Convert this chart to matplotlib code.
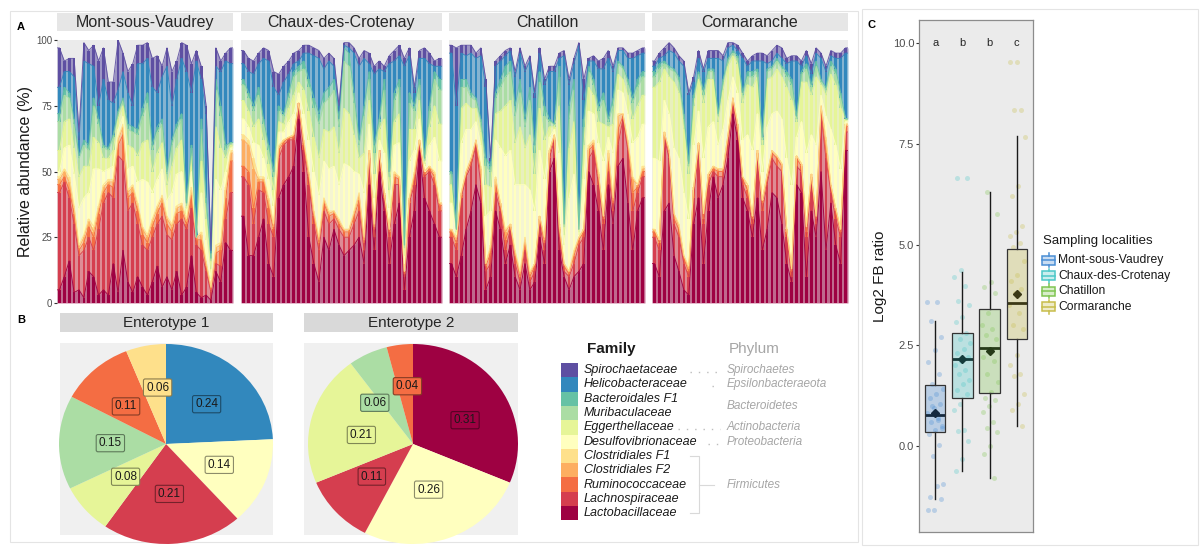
import numpy as np
import matplotlib
matplotlib.use("Agg")
import matplotlib.pyplot as plt
from matplotlib.patches import Rectangle
import matplotlib.colors as mcolors

plt.rcParams['font.family'] = ['Liberation Sans', 'DejaVu Sans']

# ---------------------------------------------------------------- data
families = ["Lactobacillaceae", "Lachnospiraceae", "Ruminococcaceae",
            "Clostridiales F2", "Clostridiales F1", "Desulfovibrionaceae",
            "Eggerthellaceae", "Muribaculaceae", "Bacteroidales F1",
            "Helicobacteraceae", "Spirochaetaceae"]
family_colors = ["#9e0142", "#d53e4f", "#f46d43", "#fdae61", "#fee08b",
                 "#ffffbf", "#e6f598", "#abdda4", "#66c2a5", "#3288bd",
                 "#5e4fa2"]

sites = ["Mont-sous-Vaudrey", "Chaux-des-Crotenay", "Chatillon", "Cormaranche"]

# relative abundance (%) per sample, one list per family
mont_lacto = [5, 10, 16, 4, 5, 2, 12, 10, 3, 5, 3, 15, 4, 20, 8, 4, 10, 6, 3, 8, 14, 6, 10, 5, 12, 3, 6, 18, 4, 2, 3, 1, 12, 8, 23, 20]
mont_lachno = [37, 36, 24, 26, 13, 18, 13, 10, 25, 33, 39, 25, 52, 34, 27, 34, 20, 16, 17, 17, 16, 27, 16, 19, 18, 29, 22, 18, 18, 18, 9, 3, 3, 6, 9, 22]
mont_rumino = [3, 2, 3, 4, 2, 3, 4, 5, 6, 4, 3, 4, 4, 10, 5, 4, 5, 4, 3, 4, 4, 5, 4, 3, 4, 3, 2, 5, 2, 4, 2, 1, 4, 6, 8, 12]
mont_clos_f2 = [2, 2, 3, 2, 1, 2, 2, 2, 2, 2, 1, 2, 2, 3, 2, 2, 2, 2, 2, 2, 2, 2, 2, 2, 2, 2, 1, 2, 1, 2, 1, 1, 2, 2, 3, 3]
mont_clos_f1 = [1, 1, 2, 1, 1, 1, 1, 2, 1, 1, 1, 1, 1, 1, 1, 1, 1, 1, 1, 1, 1, 1, 1, 1, 1, 1, 1, 1, 0, 1, 1, 0, 1, 1, 1, 1]
mont_desulfo = [2, 8, 12, 12, 14, 14, 10, 22, 14, 5, 4, 5, 3, 3, 8, 7, 8, 18, 20, 10, 10, 10, 6, 12, 12, 12, 2, 6, 0, 15, 8, 3, 25, 20, 6, 1]
mont_egger = [8, 10, 10, 10, 12, 12, 10, 12, 10, 5, 4, 6, 4, 4, 9, 7, 10, 14, 16, 8, 10, 10, 6, 10, 10, 12, 2, 6, 0, 12, 8, 4, 20, 16, 5, 1]
mont_muri = [11, 10, 8, 9, 7, 8, 6, 12, 7, 4, 3, 5, 2, 2, 6, 6, 8, 10, 14, 8, 8, 7, 4, 8, 7, 8, 1, 3, 0, 12, 6, 3, 14, 12, 3, 1]
mont_bact_f1 = [3, 3, 2, 2, 1, 2, 2, 3, 2, 1, 1, 1, 1, 1, 2, 2, 2, 3, 4, 2, 2, 2, 1, 2, 2, 2, 1, 1, 0, 4, 2, 1, 4, 4, 2, 0]
mont_helico = [10, 6, 8, 16, 6, 30, 31, 12, 5, 25, 18, 12, 8, 10, 12, 8, 25, 17, 13, 22, 13, 16, 40, 13, 17, 21, 50, 20, 67, 15, 32, 2, 5, 13, 32, 30]
mont_spiro = [15, 4, 5, 7, 3, 7, 5, 8, 17, 12, 7, 8, 19, 7, 8, 16, 7, 7, 6, 11, 14, 4, 7, 13, 7, 6, 10, 11, 4, 5, 3, 1, 7, 4, 3, 6]

chaux_lacto = [33, 18, 18, 25, 32, 15, 10, 40, 45, 48, 52, 70, 50, 25, 15, 8, 25, 20, 28, 22, 18, 20, 22, 25, 15, 45, 20, 50, 35, 15, 30, 38, 5, 25, 35, 58, 40, 35, 30, 25]
chaux_lachno = [15, 27, 12, 18, 10, 15, 15, 15, 15, 14, 10, 5, 8, 20, 15, 12, 10, 10, 4, 6, 7, 5, 8, 10, 5, 10, 5, 7, 5, 10, 15, 7, 5, 13, 10, 2, 8, 15, 15, 10]
chaux_rumino = [4, 5, 6, 3, 4, 6, 3, 3, 1, 1, 1, 1, 2, 3, 3, 3, 3, 3, 2, 2, 2, 2, 3, 4, 3, 2, 3, 1, 1, 2, 3, 2, 1, 1, 3, 1, 1, 1, 3, 2]
chaux_clos_f2 = [10, 10, 15, 1, 1, 3, 1, 1, 1, 0, 1, 0, 1, 1, 1, 1, 1, 1, 1, 1, 1, 1, 1, 2, 1, 1, 1, 0, 1, 1, 1, 1, 1, 1, 1, 1, 1, 1, 1, 1]
chaux_clos_f1 = [2, 2, 4, 1, 1, 1, 1, 1, 0, 0, 0, 0, 1, 1, 1, 1, 1, 1, 0, 1, 0, 0, 1, 1, 1, 0, 1, 0, 0, 0, 1, 0, 0, 0, 1, 0, 0, 0, 1, 0]
chaux_desulfo = [6, 5, 6, 12, 7, 7, 7, 5, 3, 6, 8, 4, 10, 12, 15, 16, 14, 16, 17, 13, 25, 24, 15, 7, 17, 10, 10, 4, 15, 8, 10, 13, 3, 14, 8, 8, 2, 8, 13, 16]
chaux_egger = [7, 6, 6, 10, 7, 6, 6, 4, 3, 5, 7, 4, 9, 11, 13, 14, 12, 14, 15, 12, 21, 20, 14, 6, 15, 9, 9, 4, 13, 7, 9, 11, 3, 12, 8, 7, 1, 7, 12, 14]
chaux_muri = [6, 5, 6, 9, 6, 5, 5, 4, 3, 4, 7, 4, 8, 9, 11, 13, 10, 13, 14, 10, 18, 18, 12, 5, 14, 8, 8, 3, 11, 5, 8, 10, 3, 10, 7, 6, 1, 6, 10, 13]
chaux_bact_f1 = [2, 2, 2, 3, 2, 2, 2, 2, 1, 2, 2, 2, 3, 3, 4, 4, 4, 4, 4, 3, 5, 5, 4, 2, 4, 3, 3, 1, 4, 2, 3, 3, 1, 4, 2, 2, 1, 2, 3, 4]
chaux_helico = [6, 8, 12, 9, 23, 32, 32, 4, 12, 7, 3, 2, 3, 10, 16, 21, 9, 10, 5, 3, 1, 2, 15, 28, 18, 3, 27, 19, 3, 41, 12, 9, 68, 14, 5, 8, 38, 16, 2, 5]
chaux_spiro = [5, 5, 5, 4, 4, 4, 6, 8, 6, 5, 4, 4, 3, 3, 3, 3, 4, 3, 3, 2, 1, 2, 2, 3, 3, 4, 3, 3, 2, 3, 4, 4, 3, 3, 2, 3, 4, 4, 2, 3]

chat_lacto = [15, 10, 18, 28, 35, 45, 38, 5, 10, 35, 28, 15, 22, 10, 5, 15, 5, 8, 25, 15, 50, 55, 20, 10, 5, 10, 12, 15, 50, 45, 35, 20, 45, 30, 52, 55, 38, 20, 35, 40]
chat_lachno = [10, 10, 22, 20, 17, 15, 7, 7, 5, 7, 7, 5, 6, 5, 3, 5, 3, 4, 5, 5, 5, 7, 5, 2, 5, 5, 10, 10, 5, 13, 10, 10, 5, 5, 8, 15, 20, 15, 7, 8]
chat_rumino = [2, 3, 1, 1, 2, 1, 4, 2, 4, 3, 2, 4, 1, 3, 2, 3, 2, 2, 2, 3, 2, 1, 3, 2, 1, 3, 2, 2, 3, 2, 3, 2, 4, 3, 6, 1, 2, 7, 2, 2]
chat_clos_f2 = [1, 1, 1, 1, 1, 1, 2, 1, 2, 2, 1, 3, 1, 1, 1, 1, 1, 1, 1, 1, 1, 1, 1, 1, 1, 1, 1, 1, 1, 1, 1, 1, 3, 1, 5, 1, 1, 5, 1, 1]
chat_clos_f1 = [0, 1, 0, 0, 0, 0, 1, 0, 1, 1, 0, 1, 0, 1, 1, 1, 1, 0, 0, 1, 0, 0, 1, 0, 0, 1, 0, 0, 1, 1, 1, 0, 1, 1, 1, 0, 1, 1, 0, 1]
chat_desulfo = [10, 1, 19, 16, 11, 7, 8, 18, 13, 14, 21, 28, 28, 25, 33, 20, 31, 20, 25, 22, 5, 2, 27, 7, 28, 29, 1, 19, 13, 10, 11, 21, 5, 17, 9, 8, 10, 13, 18, 16]
chat_egger = [7, 1, 13, 10, 8, 5, 5, 12, 9, 10, 14, 19, 19, 16, 22, 14, 21, 14, 16, 15, 4, 1, 18, 4, 19, 20, 1, 13, 9, 7, 8, 14, 4, 11, 6, 5, 7, 9, 12, 11]
chat_muri = [4, 1, 8, 6, 4, 3, 4, 7, 6, 6, 9, 11, 11, 10, 13, 8, 13, 8, 10, 9, 2, 1, 11, 3, 11, 12, 1, 7, 6, 4, 4, 9, 2, 7, 4, 4, 4, 6, 7, 7]
chat_bact_f1 = [1, 0, 3, 3, 2, 1, 1, 3, 2, 2, 3, 4, 4, 4, 5, 3, 5, 3, 4, 4, 1, 0, 4, 1, 5, 4, 0, 3, 2, 2, 2, 3, 1, 3, 1, 1, 2, 2, 3, 2]
chat_helico = [45, 47, 10, 9, 15, 15, 24, 27, 2, 10, 7, 4, 4, 11, 10, 18, 10, 18, 7, 8, 18, 20, 3, 64, 8, 6, 70, 7, 2, 7, 14, 9, 23, 10, 4, 6, 8, 15, 9, 7]
chat_spiro = [3, 22, 3, 4, 3, 2, 3, 3, 1, 2, 2, 2, 1, 2, 2, 2, 2, 2, 2, 2, 2, 2, 2, 2, 2, 2, 1, 8, 1, 2, 3, 4, 3, 2, 1, 1, 2, 2, 2, 2]

corm_lacto = [15, 10, 35, 38, 18, 12, 5, 3, 30, 40, 15, 35, 48, 40, 45, 55, 72, 62, 40, 35, 25, 40, 20, 28, 42, 40, 30, 15, 8, 45, 42, 10, 35, 25, 50, 20, 38, 22, 15, 58]
corm_lachno = [10, 10, 28, 17, 12, 13, 10, 7, 10, 18, 15, 10, 2, 8, 3, 5, 4, 3, 5, 5, 5, 15, 15, 17, 13, 12, 20, 10, 2, 7, 8, 15, 10, 5, 22, 35, 4, 10, 10, 7]
corm_rumino = [2, 3, 1, 2, 2, 3, 2, 2, 3, 2, 2, 3, 1, 2, 2, 3, 1, 2, 2, 3, 2, 2, 3, 2, 2, 3, 2, 2, 2, 3, 2, 2, 3, 2, 1, 2, 2, 3, 2, 2]
corm_clos_f2 = [1, 1, 1, 1, 2, 1, 1, 1, 1, 1, 2, 1, 1, 1, 1, 1, 1, 1, 1, 2, 1, 1, 1, 2, 1, 1, 1, 1, 1, 1, 1, 2, 1, 1, 2, 5, 1, 1, 1, 1]
corm_clos_f1 = [0, 0, 0, 0, 0, 1, 0, 1, 0, 0, 0, 0, 0, 0, 0, 0, 0, 0, 0, 0, 0, 0, 0, 0, 0, 0, 0, 0, 0, 0, 0, 0, 0, 0, 0, 1, 0, 0, 0, 0]
corm_desulfo = [27, 30, 12, 14, 25, 25, 24, 18, 16, 12, 21, 18, 17, 9, 15, 13, 8, 12, 14, 19, 25, 14, 11, 18, 14, 17, 17, 27, 32, 7, 16, 28, 15, 27, 4, 8, 21, 24, 23, 1]
corm_egger = [27, 30, 12, 14, 25, 25, 24, 17, 15, 12, 21, 18, 16, 9, 15, 13, 8, 11, 14, 19, 24, 14, 10, 18, 14, 16, 16, 27, 32, 6, 15, 27, 15, 26, 4, 8, 21, 23, 23, 1]
corm_muri = [4, 5, 2, 3, 4, 4, 4, 3, 3, 2, 3, 3, 3, 2, 3, 2, 1, 2, 3, 3, 4, 2, 2, 3, 3, 3, 3, 4, 6, 1, 3, 5, 3, 4, 1, 2, 3, 4, 4, 0]
corm_bact_f1 = [2, 2, 1, 1, 1, 2, 2, 1, 1, 1, 2, 1, 1, 1, 1, 1, 1, 1, 1, 2, 2, 1, 1, 1, 1, 1, 1, 2, 2, 1, 1, 2, 1, 2, 1, 1, 2, 2, 2, 0]
corm_helico = [2, 2, 2, 6, 6, 6, 18, 26, 5, 5, 7, 4, 4, 21, 7, 4, 2, 2, 13, 2, 4, 3, 29, 2, 2, 2, 3, 3, 7, 21, 2, 3, 4, 3, 8, 6, 2, 4, 13, 25]
corm_spiro = [2, 2, 3, 3, 2, 2, 2, 1, 2, 3, 1, 3, 3, 3, 2, 2, 1, 2, 2, 2, 2, 3, 3, 3, 4, 3, 4, 2, 2, 2, 2, 2, 4, 2, 2, 2, 2, 2, 2, 2]

# mean family proportions per enterotype (clockwise from 12 o'clock)
ent1_families = ["Helicobacteraceae", "Desulfovibrionaceae", "Lachnospiraceae",
                 "Eggerthellaceae", "Muribaculaceae", "Ruminococcaceae",
                 "Clostridiales F1"]
ent1_values = [0.24, 0.14, 0.21, 0.08, 0.15, 0.11, 0.06]
ent2_families = ["Lactobacillaceae", "Desulfovibrionaceae", "Lachnospiraceae",
                 "Eggerthellaceae", "Muribaculaceae", "Ruminococcaceae"]
ent2_values = [0.31, 0.26, 0.11, 0.21, 0.06, 0.04]

# Firmicutes / Bacteroidetes ratio
box_colors = ["#4a8ed4", "#4cc8c8", "#80c552", "#c8bd4b"]
box_q1 = [0.34, 1.20, 1.31, 2.66]
box_median = [0.78, 2.17, 2.44, 3.56]
box_q3 = [1.52, 2.81, 3.41, 4.89]
box_whislo = [-1.30, -0.62, -0.80, 0.50]
box_whishi = [3.11, 4.32, 6.30, 7.69]
box_mean = [0.83, 2.17, 2.36, 3.77]
sig_letters = ["a", "b", "b", "c"]
fb_mont = [3.58, 3.58, 3.1, 2.7, 2.38, 2.09, 1.8, 1.55, 1.42, 1.3, 1.2, 1.05, 0.95, 0.82,
           0.7, 0.6, 0.5, 0.4, 0.3, 0.02, -0.25, -0.93, -1.0, -1.25, -1.3, -1.59, -1.59,
           0.65, 1.0, 0.45]
fb_chaux = [6.65, 6.65, 4.37, 4.2, 3.97, 3.6, 3.5, 3.2, 3.09, 2.8, 2.65, 2.55, 2.4, 2.3,
            2.2, 2.1, 2.0, 1.9, 1.8, 1.65, 1.55, 1.4, 1.3, 1.05, 0.9, 0.4, 0.38, 0.13,
            -0.32, -0.62]
fb_chat = [6.3, 5.75, 4.07, 3.95, 3.79, 3.3, 3.0, 2.9, 2.75, 2.65, 2.4, 2.2, 2.1, 1.8,
           1.6, 1.35, 1.2, 1.15, 1.0, 0.85, 0.6, 0.45, 0.35, 0.0, -0.2, -0.8]
fb_corm = [9.52, 9.52, 8.33, 8.33, 7.68, 6.45, 6.2, 5.45, 5.3, 5.2, 5.05, 4.95, 4.6, 4.25,
           4.1, 3.9, 3.8, 3.5, 3.3, 3.0, 2.9, 2.25, 2.0, 1.8, 1.75, 1.3, 1.05, 0.9, 0.5]

# ---------------------------------------------------------------- layout helpers
W, H = 1203, 547
fig = plt.figure(figsize=(W / 100, H / 100), dpi=100)


def px_box(x0, y0, x1, y1):
    return [x0 / W, 1 - y1 / H, (x1 - x0) / W, (y1 - y0) / H]


def darker(c, f=0.6):
    r, g, b = mcolors.to_rgb(c)
    return (r * f, g * f, b * f)


ov = fig.add_axes([0, 0, 1, 1])
ov.set_xlim(0, W)
ov.set_ylim(H, 0)
ov.axis("off")

# outer frames
ov.add_patch(Rectangle((10, 11), 848, 531, fill=False, ec="#e4e4e4", lw=0.8))
ov.add_patch(Rectangle((862, 9), 336, 536, fill=False, ec="#e4e4e4", lw=0.8))

ov.text(21, 27, "A", fontsize=8, fontweight="bold", ha="center", va="center")
ov.text(21, 320, "B", fontsize=8, fontweight="bold", ha="center", va="center")
ov.text(871, 25, "C", fontsize=8, fontweight="bold", ha="center", va="center")

# ---------------------------------------------------------------- panel A
site_data = [
    [mont_lacto, mont_lachno, mont_rumino, mont_clos_f2, mont_clos_f1, mont_desulfo,
     mont_egger, mont_muri, mont_bact_f1, mont_helico, mont_spiro],
    [chaux_lacto, chaux_lachno, chaux_rumino, chaux_clos_f2, chaux_clos_f1, chaux_desulfo,
     chaux_egger, chaux_muri, chaux_bact_f1, chaux_helico, chaux_spiro],
    [chat_lacto, chat_lachno, chat_rumino, chat_clos_f2, chat_clos_f1, chat_desulfo,
     chat_egger, chat_muri, chat_bact_f1, chat_helico, chat_spiro],
    [corm_lacto, corm_lachno, corm_rumino, corm_clos_f2, corm_clos_f1, corm_desulfo,
     corm_egger, corm_muri, corm_bact_f1, corm_helico, corm_spiro],
]
panel_x = [(57, 233), (241, 442), (449, 645), (652, 848)]
top_px, bot_px = 40, 303

for s, (site, rows) in enumerate(zip(sites, site_data)):
    x0, x1 = panel_x[s]
    ax = fig.add_axes(px_box(x0, top_px, x1, bot_px))
    ax.set_facecolor("#ebebeb")
    vals = np.array(rows, dtype=float)
    n = vals.shape[1]
    tops = np.cumsum(vals, axis=0)
    bottoms = tops - vals
    x = np.arange(n)
    xe = np.concatenate([[-0.5], x, [n - 0.5]])
    for k, col in enumerate(family_colors):
        lo = np.concatenate([[bottoms[k, 0]], bottoms[k], [bottoms[k, -1]]])
        hi = np.concatenate([[tops[k, 0]], tops[k], [tops[k, -1]]])
        ax.fill_between(xe, lo, hi, color=col, alpha=0.55, lw=0)
        ax.plot(xe, hi, color=col, lw=0.7, alpha=0.9)
        ax.bar(x, vals[k], bottom=bottoms[k], width=0.55, color=col, lw=0)
    ax.set_xlim(-0.5, n - 0.5)
    ax.set_ylim(0, 100)
    ax.set_xticks([])
    for sp in ax.spines.values():
        sp.set_visible(False)
    if s == 0:
        ax.set_yticks([0, 25, 50, 75, 100])
        ax.tick_params(axis="y", labelsize=7, labelcolor="#4d4d4d", length=2,
                       color="#333333", pad=1.5)
        ax.set_ylabel("Relative abundance (%)", fontsize=11.5, color="#1a1a1a",
                      labelpad=2)
    else:
        ax.set_yticks([])
    ov.add_patch(Rectangle((x0, 13), x1 - x0, 18, fc="#e6e6e6", ec="none"))
    ov.text((x0 + x1) / 2, 22.5, site, fontsize=11.5, color="#262626",
            ha="center", va="center")

# ---------------------------------------------------------------- panel B
def draw_pie(fams, values, px, center_x, rx, title, label_r, label_shift):
    x0, x1 = px
    ov.add_patch(Rectangle((x0, 313), x1 - x0, 19, fc="#d9d9d9", ec="none"))
    ov.text((x0 + x1) / 2, 322.5, title, fontsize=11, color="#262626",
            ha="center", va="center")
    ax = fig.add_axes(px_box(x0, 343, x1, 535))
    ax.set_facecolor("#f0f0f0")
    cols = [family_colors[families.index(f)] for f in fams]
    ax.pie(values, colors=cols, startangle=90, counterclock=False,
           wedgeprops=dict(linewidth=0))
    ax.set_aspect("auto")
    ax.set_frame_on(True)
    for sp in ax.spines.values():
        sp.set_visible(False)
    ax.patch.set_visible(True)
    cy, ry = 444, 100
    ax.set_xlim(-(center_x - x0) / rx, (x1 - center_x) / rx)
    ax.set_ylim(-(535 - cy) / ry, (cy - 343) / ry)
    frac = np.array(values) / np.sum(values)
    mids = np.cumsum(frac) - frac / 2
    for v, m, c, r, dth in zip(values, mids, cols, label_r, label_shift):
        th = 2 * np.pi * m + np.deg2rad(dth)
        ax.text(r * np.sin(th), r * np.cos(th), f"{v:.2f}", fontsize=8.5,
                color="#1a1a1a", ha="center", va="center",
                bbox=dict(boxstyle="round,pad=0.22,rounding_size=0.15", fc=c,
                          ec=darker(c, 0.55), lw=0.8))
    ax.set_xticks([])
    ax.set_yticks([])


draw_pie(ent1_families, ent1_values, (60, 273), 166, 107, "Enterotype 1",
         [0.55, 0.54, 0.5, 0.5, 0.52, 0.53, 0.57], [0, 0, 0, 0, 0, -3, 3])
draw_pie(ent2_families, ent2_values, (304, 518), 413, 105, "Enterotype 2",
         [0.55, 0.48, 0.51, 0.5, 0.55, 0.58], [8, 2, 3, -5, -16, 2])

# family / phylum legend
legend_order = families[::-1]
row_h = 14.3
ov.text(587, 349, "Family", fontsize=11, fontweight="bold", color="#1a1a1a",
        ha="left", va="center")
ov.text(729, 349, "Phylum", fontsize=11, color="#a6a6a6", ha="left", va="center")
for k, fam in enumerate(legend_order):
    yk = 363 + row_h * k
    ov.add_patch(Rectangle((561, yk), 17, row_h, fc=family_colors[families.index(fam)],
                           ec="none"))
    ov.text(584, yk + row_h / 2, fam, fontsize=9, style="italic", color="#1a1a1a",
            ha="left", va="center")
phyla = [("Spirochaetes", 0), ("Epsilonbacteraeota", 1), ("Bacteroidetes", 2.5),
         ("Actinobacteria", 4), ("Proteobacteria", 5), ("Firmicutes", 8)]
for name, k in phyla:
    ov.text(727, 363 + row_h * (k + 0.5), name, fontsize=8.5, style="italic",
            color="#a6a6a6", ha="left", va="center")
dot_spans = [(0, 690), (1, 712), (4, 678), (5, 708)]
for k, xs in dot_spans:
    yk = 363 + row_h * (k + 0.5) + 2
    ov.plot([xs, 720], [yk, yk], ls=(0, (1, 5)), color="#bdbdbd", lw=1)
yb0 = 363 + row_h * 6.5
yb1 = 363 + row_h * 10.5
ymid = 363 + row_h * 8.5
ov.plot([690, 699, 699, 690], [yb0, yb0, yb1, yb1], color="#d9d9d9", lw=0.8)
ov.plot([699, 714], [ymid, ymid], color="#d9d9d9", lw=0.8)

# ---------------------------------------------------------------- panel C
axc = fig.add_axes(px_box(919, 20, 1033, 532))
axc.set_facecolor("#ebebeb")
for sp in axc.spines.values():
    sp.set_color("#8c8c8c")
    sp.set_linewidth(0.9)
groups = [fb_mont, fb_chaux, fb_chat, fb_corm]
for g, (pts, col) in enumerate(zip(groups, box_colors)):
    idx = np.arange(len(pts))
    jit = ((idx * 0.6180339887 + 0.17 * g) % 1.0 - 0.5) * 0.62
    axc.scatter(g + 1 + jit, pts, s=13, color=col, alpha=0.3, lw=0, zorder=2)
stats = [dict(q1=a, med=b, q3=c, whislo=d, whishi=e, mean=f, fliers=[])
         for a, b, c, d, e, f in zip(box_q1, box_median, box_q3, box_whislo,
                                     box_whishi, box_mean)]
bp = axc.bxp(stats, positions=[1, 2, 3, 4], widths=0.75, patch_artist=True,
             showmeans=True, showcaps=False, showfliers=False,
             boxprops=dict(edgecolor="#333333", linewidth=0.9),
             whiskerprops=dict(color="#1a1a1a", linewidth=1.0),
             medianprops=dict(color="black", linewidth=2.0),
             meanprops=dict(marker="D", markerfacecolor="black",
                            markeredgecolor="black", markersize=4))
for patch, col in zip(bp["boxes"], box_colors):
    r, g_, b = mcolors.to_rgb(col)
    patch.set_facecolor((r, g_, b, 0.3))
    patch.set_zorder(3)
for k, letter in enumerate(sig_letters):
    axc.text(k + 1, 10.0, letter, fontsize=8, color="#262626", ha="center",
             va="center")
axc.set_xlim(0.4, 4.6)
axc.set_ylim(-2.13, 10.57)
axc.set_xticks([])
axc.set_yticks([0, 2.5, 5.0, 7.5, 10.0])
axc.set_yticklabels(["0.0", "2.5", "5.0", "7.5", "10.0"])
axc.tick_params(axis="y", labelsize=8, labelcolor="#4d4d4d", length=2,
                color="#333333", pad=1.5)
axc.set_ylabel("Log2 FB ratio", fontsize=11, color="#1a1a1a", labelpad=4)

# locality legend
ov.text(1043, 241, "Sampling localities", fontsize=9.5, color="#1a1a1a",
        ha="left", va="center")
for k, (site, col) in enumerate(zip(sites, box_colors)):
    yk = 260 + 15.6 * k
    r, g_, b = mcolors.to_rgb(col)
    ov.add_patch(Rectangle((1042, yk - 4.5), 13, 9, fc=(r, g_, b, 0.3), ec=col, lw=1.1))
    ov.plot([1042, 1055], [yk, yk], color=col, lw=1.1)
    ov.plot([1048.5, 1048.5], [yk - 7, yk - 4.5], color=col, lw=1.1)
    ov.plot([1048.5, 1048.5], [yk + 4.5, yk + 7], color=col, lw=1.1)
    ov.text(1058, yk, site, fontsize=8.7, color="#1a1a1a", ha="left", va="center")

fig.savefig("out.png", dpi=100)
